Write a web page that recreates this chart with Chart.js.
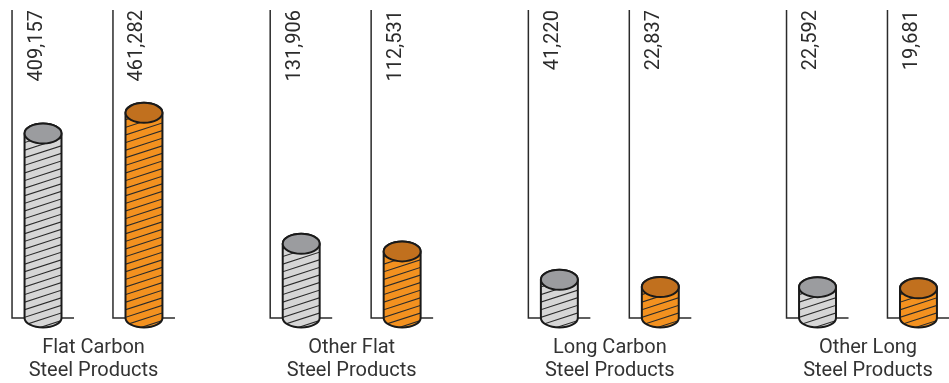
<!DOCTYPE html>
<html>
<head>
<meta charset="utf-8">
<script src="https://cdn.jsdelivr.net/npm/chart.js@4.4.1/dist/chart.umd.min.js"></script>
<style>
  html, body { margin: 0; padding: 0; background: #fff; }
  #wrap { width: 949px; height: 383px; }
</style>
</head>
<body>
<div id="wrap"><canvas id="steelChart"></canvas></div>
<script>
const categories = [
  ['Flat Carbon', 'Steel Products'],
  ['Other Flat', 'Steel Products'],
  ['Long Carbon', 'Steel Products'],
  ['Other Long', 'Steel Products']
];
const seriesGray = [409157, 131906, 41220, 22592];
const seriesOrange = [461282, 112531, 22837, 19681];

// value axis; bars rise from below zero so the small products stay readable
const axisMin = -55000;
const axisMax = 720000;

const palette = [
  { body: '#d6d6d6', top: '#9b9c9f' },
  { body: '#f3911f', top: '#c1701e' }
];

const INK = '#2b2b2b';
const FRAME_HALF = 31;   // half width of the bracket drawn around each cylinder
const TOP_RY = 10;
const BOTTOM_RY = 9.5;

function drawFrame(ctx, bar, top) {
  const fx = bar.x - FRAME_HALF;
  ctx.save();
  ctx.strokeStyle = INK;
  ctx.lineWidth = 1.5;
  ctx.beginPath();
  ctx.moveTo(fx, top);
  ctx.lineTo(fx, bar.base);
  ctx.lineTo(bar.x + FRAME_HALF, bar.base);
  ctx.stroke();
  ctx.restore();
}

function bodyPath(ctx, x, y, base, rx) {
  ctx.beginPath();
  ctx.moveTo(x - rx, y);
  ctx.lineTo(x - rx, base);
  ctx.ellipse(x, base, rx, BOTTOM_RY, 0, Math.PI, 0, true);
  ctx.lineTo(x + rx, y);
  ctx.ellipse(x, y, rx, TOP_RY, 0, 0, Math.PI, true);
  ctx.closePath();
}

function drawCylinder(ctx, bar, colors) {
  const { x, y, base, width } = bar;
  const rx = width / 2;
  ctx.save();

  bodyPath(ctx, x, y, base, rx);
  ctx.fillStyle = colors.body;
  ctx.fill();

  // diagonal hatching inside the body
  ctx.save();
  bodyPath(ctx, x, y, base, rx);
  ctx.clip();
  ctx.strokeStyle = INK;
  ctx.lineWidth = 1.1;
  ctx.beginPath();
  const rise = width * 0.36;
  for (let k = base + BOTTOM_RY + rise; k > y - TOP_RY - rise; k -= 7.6) {
    ctx.moveTo(x - rx - 2, k);
    ctx.lineTo(x + rx + 2, k - rise);
  }
  ctx.stroke();
  ctx.restore();

  ctx.strokeStyle = '#1a1a1a';
  ctx.lineWidth = 2;
  bodyPath(ctx, x, y, base, rx);
  ctx.stroke();

  ctx.beginPath();
  ctx.ellipse(x, y, rx, TOP_RY, 0, 0, Math.PI * 2);
  ctx.fillStyle = colors.top;
  ctx.fill();
  ctx.stroke();
  ctx.restore();
}

function drawValue(ctx, bar, value, top) {
  ctx.save();
  ctx.translate(bar.x - FRAME_HALF + 29.5, top);
  ctx.rotate(-Math.PI / 2);
  ctx.font = '20px Roboto, sans-serif';
  ctx.fillStyle = INK;
  ctx.textAlign = 'right';
  ctx.textBaseline = 'alphabetic';
  ctx.fillText(value.toLocaleString('en-US'), 0, 0);
  ctx.restore();
}

const cylinderPlugin = {
  id: 'cylinders',
  afterDatasetsDraw(chart) {
    const { ctx, chartArea } = chart;
    chart.data.datasets.forEach((ds, di) => {
      const meta = chart.getDatasetMeta(di);
      meta.data.forEach((bar, i) => {
        drawFrame(ctx, bar, chartArea.top);
        drawCylinder(ctx, bar, palette[di]);
        drawValue(ctx, bar, ds.data[i], chartArea.top);
      });
    });
  }
};

new Chart(document.getElementById('steelChart'), {
  type: 'bar',
  data: {
    labels: categories,
    datasets: [
      { label: 'Gray', data: seriesGray, base: axisMin, backgroundColor: 'rgba(0,0,0,0)' },
      { label: 'Orange', data: seriesOrange, base: axisMin, backgroundColor: 'rgba(0,0,0,0)' }
    ]
  },
  options: {
    responsive: true,
    maintainAspectRatio: false,
    animation: false,
    layout: {
      // the category labels sit tight under the baseline
      padding: { left: 93.5, right: 81, top: 10, bottom: -10 }
    },
    datasets: {
      bar: { categoryPercentage: 0.782, barPercentage: 0.366 }
    },
    scales: {
      x: {
        offset: false,
        grid: { display: false },
        border: { display: false },
        ticks: {
          color: '#333',
          font: { family: 'Roboto', size: 20, lineHeight: 1.15 },
          padding: 10.5,
          maxRotation: 0,
          autoSkip: false
        }
      },
      y: { display: false, min: axisMin, max: axisMax }
    },
    plugins: {
      legend: { display: false },
      tooltip: { enabled: false }
    }
  },
  plugins: [cylinderPlugin]
});
</script>
</body>
</html>
